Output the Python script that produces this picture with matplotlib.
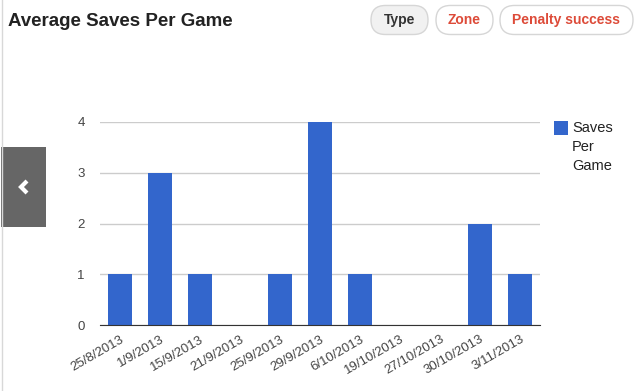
import matplotlib
matplotlib.use("Agg")
import matplotlib.pyplot as plt
from matplotlib.patches import FancyBboxPatch, Rectangle

dates = ['25/8/2013', '1/9/2013', '15/9/2013', '21/9/2013', '25/9/2013', '29/9/2013',
         '6/10/2013', '19/10/2013', '27/10/2013', '30/10/2013', '3/11/2013']
saves = [1, 3, 1, 0, 1, 4, 1, 0, 0, 2, 1]
yticks = [0, 1, 2, 3, 4]
series_name = 'Saves\nPer\nGame'
bar_color = '#3366cc'

plt.rcParams['font.family'] = ['Liberation Sans', 'DejaVu Sans']

W, H = 641, 391
fig = plt.figure(figsize=(W / 100, H / 100), dpi=100)

def fx(px):
    return px / W

def fy(py):
    return 1 - py / H

# left page border
fig.add_artist(plt.Line2D([fx(2), fx(2)], [0, 1], color='#d8d8d8', lw=1))

# title
fig.text(fx(8), fy(21), 'Average Saves Per Game', fontsize=13.5, fontweight='bold',
         color='#222222', va='center', ha='left')

# pill buttons
buttons = [('Type', 371, 428, '#f1f1f1', '#333333'),
           ('Zone', 436, 493, '#ffffff', '#dd4b39'),
           ('Penalty success', 500, 633, '#ffffff', '#dd4b39')]
for label, x0, x1, fc, tc in buttons:
    r = 14.5
    yc = 20
    box = FancyBboxPatch((fx(x0 + r), fy(yc)), fx(x1 - x0 - 2 * r), 0.0001,
                         boxstyle='round,pad=%f' % (r / W),
                         mutation_aspect=W / H,
                         transform=fig.transFigure, fc=fc, ec='#d6d6d6', lw=1)
    fig.add_artist(box)
    fig.text(fx((x0 + x1) / 2), fy(yc), label, fontsize=10, fontweight='bold',
             color=tc, ha='center', va='center')

# left arrow button
fig.add_artist(Rectangle((fx(1), fy(227)), fx(45), 80 / H, transform=fig.transFigure,
                         fc='#666666', ec='none'))
fig.add_artist(plt.Line2D([fx(27), fx(21), fx(27)], [fy(181), fy(187), fy(193)],
                          color='white', lw=3, solid_capstyle='butt',
                          solid_joinstyle='miter'))

ax = fig.add_axes([fx(100), fy(325), fx(440), 203 / H])
x = list(range(len(dates)))
ax.bar(x, saves, width=0.6, color=bar_color, zorder=2)
ax.set_xlim(-0.5, len(dates) - 0.5)
ax.set_ylim(0, 4)
ax.set_yticks(yticks)
ax.set_xticks(x)
ax.set_xticklabels(dates, rotation=30, ha='right', rotation_mode='anchor')
ax.tick_params(axis='both', length=0, labelsize=9.5, colors='#444444')
ax.tick_params(axis='y', pad=11)
ax.tick_params(axis='x', pad=6)
ax.grid(axis='y', color='#cccccc', lw=1, zorder=0)
for s in ['top', 'right', 'left']:
    ax.spines[s].set_visible(False)
ax.spines['bottom'].set_color('#333333')
ax.spines['bottom'].set_zorder(3)

# legend
fig.add_artist(Rectangle((fx(554), fy(135)), fx(14), 14 / H, transform=fig.transFigure,
                         fc=bar_color, ec='none'))
fig.text(fx(572), fy(121), series_name, fontsize=10.5, color='#222222',
         ha='left', va='top', linespacing=1.45)

fig.savefig('out.png', dpi=100, facecolor='white')
